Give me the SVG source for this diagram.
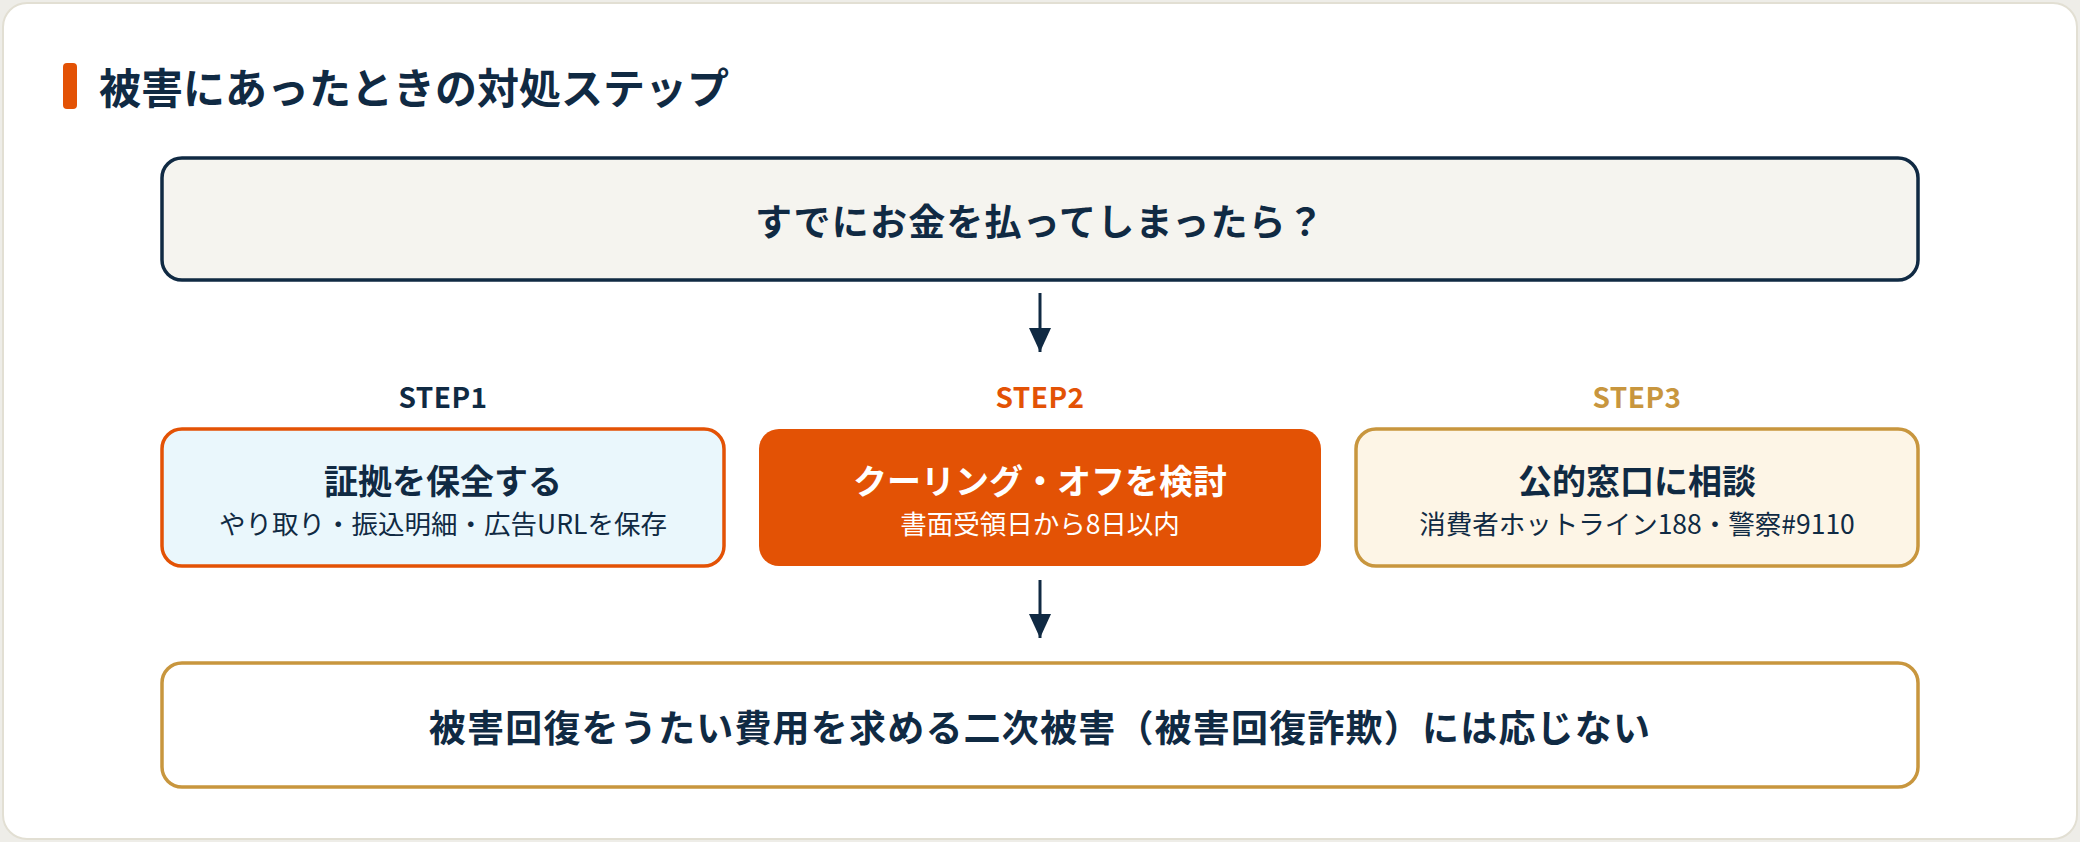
<svg xmlns="http://www.w3.org/2000/svg" width="2080" height="842" viewBox="0 0 2080 842">
<style>
text{font-family:"Noto Sans CJK JP","Noto Sans",sans-serif;text-anchor:middle}
.main{font-size:37px;font-weight:700;fill:#102a43;letter-spacing:1.2px}
.ttl{font-size:34px;font-weight:700;fill:#102a43}
.sub{font-size:26.5px;font-weight:400;fill:#102a43}
.step{font-size:28px;font-weight:700;letter-spacing:0.5px}
.conn{stroke:#102a43;stroke-width:3;fill:none}
</style>
<defs>
<marker id="ah" viewBox="0 0 24 22" refX="24" refY="11" markerWidth="24" markerHeight="22" markerUnits="userSpaceOnUse" orient="auto">
<path d="M0,0 L24,11 L0,22 Z" fill="#102a43"/>
</marker>
</defs>
<rect x="0" y="0" width="2080" height="842" fill="#eeede8"/>
<rect x="3" y="3" width="2074" height="836" rx="24" fill="#ffffff" stroke="#e2dfd3" stroke-width="2"/>
<g id="title">
<rect x="63" y="63" width="14" height="46" rx="4" fill="#e35205"/>
<text x="99" y="104" style="font-size:42px;font-weight:700;fill:#102a43;text-anchor:start">被害にあったときの対処ステップ</text>
</g>
<g id="connectors">
<line class="conn" x1="1040" y1="293" x2="1040" y2="352" marker-end="url(#ah)"/>
<line class="conn" x1="1040" y1="580" x2="1040" y2="638" marker-end="url(#ah)"/>
</g>
<g id="start">
<rect x="162" y="158" width="1756" height="122" rx="20" fill="#f5f4ef" stroke="#102a43" stroke-width="3.5"/>
<text class="main" x="1040" y="236">すでにお金を払ってしまったら？</text>
</g>
<g id="step1">
<text class="step" x="443" y="408" fill="#102a43">STEP1</text>
<rect x="162" y="429" width="562" height="137" rx="20" fill="#eaf7fc" stroke="#e35205" stroke-width="3.5"/>
<text class="ttl" x="443" y="494">証拠を保全する</text>
<text class="sub" x="443" y="534">やり取り・振込明細・広告URLを保存</text>
</g>
<g id="step2">
<text class="step" x="1040" y="408" fill="#e35205">STEP2</text>
<rect x="759" y="429" width="562" height="137" rx="20" fill="#e35205"/>
<text class="ttl" x="1040" y="494" style="fill:#ffffff">クーリング・オフを検討</text>
<text class="sub" x="1040" y="534" style="fill:#ffffff">書面受領日から8日以内</text>
</g>
<g id="step3">
<text class="step" x="1637" y="408" fill="#c8963e">STEP3</text>
<rect x="1356" y="429" width="562" height="137" rx="20" fill="#fdf5e6" stroke="#c8963e" stroke-width="3.5"/>
<text class="ttl" x="1637" y="494">公的窓口に相談</text>
<text class="sub" x="1637" y="534">消費者ホットライン188・警察#9110</text>
</g>
<g id="warning">
<rect x="162" y="663" width="1756" height="124" rx="20" fill="#ffffff" stroke="#c8963e" stroke-width="3.5"/>
<text class="main" x="1040" y="742">被害回復をうたい費用を求める二次被害（被害回復詐欺）には応じない</text>
</g>
</svg>
